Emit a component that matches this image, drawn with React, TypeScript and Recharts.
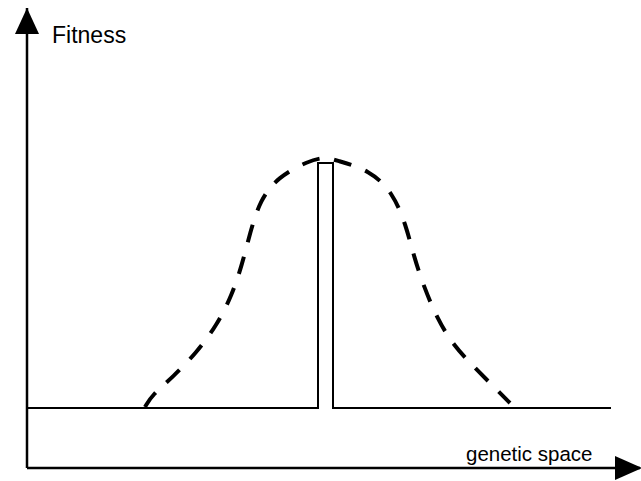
import React from "react";
import { LineChart, Line, XAxis, YAxis, ReferenceDot } from "recharts";

// genetic space position (x) and fitness (y)
const curveX = [118, 125, 146, 170, 190, 205, 215, 223, 233, 251, 281, 298, 308, 343, 366, 379, 387, 397, 410, 426, 450, 473, 483];
const curveY = [61, 73, 91, 116, 143, 173, 203, 235, 268, 291, 307, 311, 308, 298, 275, 243, 211, 181, 150, 123, 98, 75, 65];

const spikeX = [0, 291, 291, 306, 306, 584];
const spikeY = [60, 60, 305, 305, 60, 60];

const xDomain = [0, 613];
const yDomain = [0, 460];

const axisLabels = { y: "Fitness", x: "genetic space" };

const curveData = curveX.map((x, i) => ({ x, y: curveY[i] }));
const spikeData = spikeX.map((x, i) => ({ x, y: spikeY[i] }));

const UpArrow = ({ cx, cy }) => (
  <polygon points={`${cx},${cy} ${cx - 12},${cy + 26} ${cx + 12},${cy + 26}`} fill="#000" />
);

const RightArrow = ({ cx, cy }) => (
  <polygon points={`${cx + 2},${cy} ${cx - 25},${cy - 12} ${cx - 25},${cy + 12}`} fill="#000" />
);

const labelShape = (text, size) => ({ cx, cy }) => (
  <text x={cx} y={cy} fontSize={size} fontFamily="'Liberation Sans', Arial, sans-serif" fill="#000">
    {text}
  </text>
);

export default function App() {
  return (
    <div style={{ position: "absolute", left: 0, top: 0, width: 641, height: 481, background: "#fff" }}>
      <LineChart width={641} height={481} margin={{ top: 8, right: 1, left: 0, bottom: 0 }}>
        <XAxis
          type="number"
          dataKey="x"
          domain={xDomain}
          allowDataOverflow
          height={13}
          tick={false}
          tickLine={false}
          axisLine={{ stroke: "#000", strokeWidth: 2.5 }}
        />
        <YAxis
          type="number"
          dataKey="y"
          domain={yDomain}
          allowDataOverflow
          width={27}
          tick={false}
          tickLine={false}
          axisLine={{ stroke: "#000", strokeWidth: 2.5 }}
        />
        <Line
          data={spikeData}
          dataKey="y"
          type="linear"
          stroke="#000"
          strokeWidth={2}
          dot={false}
          isAnimationActive={false}
        />
        <Line
          data={curveData}
          dataKey="y"
          type="basis"
          stroke="#000"
          strokeWidth={4}
          strokeDasharray="18 15"
          dot={false}
          isAnimationActive={false}
        />
        <ReferenceDot x={0} y={460} ifOverflow="visible" shape={UpArrow} />
        <ReferenceDot x={613} y={0} ifOverflow="visible" shape={RightArrow} />
        <ReferenceDot x={25} y={425} ifOverflow="visible" shape={labelShape(axisLabels.y, 23)} />
        <ReferenceDot x={439} y={7} ifOverflow="visible" shape={labelShape(axisLabels.x, 20.5)} />
      </LineChart>
    </div>
  );
}
